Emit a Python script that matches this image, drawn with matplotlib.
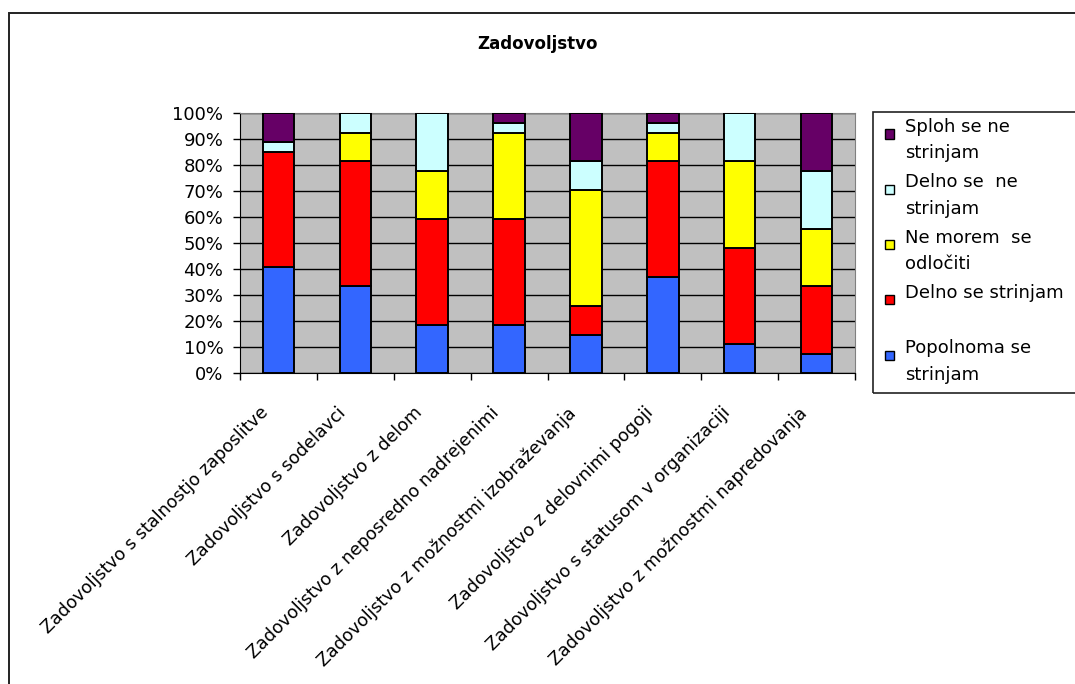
import matplotlib
matplotlib.use("Agg")
import matplotlib.pyplot as plt
from matplotlib.patches import Rectangle
from matplotlib.transforms import ScaledTranslation

# survey answers, share of respondents in %
categories = [
    "Zadovoljstvo s stalnostjo zaposlitve",
    "Zadovoljstvo s sodelavci",
    "Zadovoljstvo z delom",
    "Zadovoljstvo z neposredno nadrejenimi",
    "Zadovoljstvo z možnostmi izobraževanja",
    "Zadovoljstvo z delovnimi pogoji",
    "Zadovoljstvo s statusom v organizaciji",
    "Zadovoljstvo z možnostmi napredovanja",
]
popolnoma = [40.7, 33.3, 18.5, 18.5, 14.8, 37.0, 11.1, 7.4]
delno_strinjam = [44.4, 48.1, 40.7, 40.7, 11.1, 44.4, 37.0, 25.9]
ne_morem = [0.0, 11.1, 18.5, 33.3, 44.4, 11.1, 33.3, 22.2]
delno_ne = [3.7, 7.5, 22.3, 3.7, 11.1, 3.7, 18.6, 22.2]
sploh_ne = [11.2, 0.0, 0.0, 3.8, 18.6, 3.8, 0.0, 22.3]

series_labels = ["Popolnoma se\nstrinjam", "Delno se strinjam\n", "Ne morem  se\nodločiti",
                 "Delno se  ne\nstrinjam", "Sploh se ne\nstrinjam"]
series_colors = ["#3366FF", "#FF0000", "#FFFF00", "#CCFFFF", "#660066"]

W, H = 1075, 684
plt.rcParams["font.family"] = "DejaVu Sans"
plt.rcParams["font.size"] = 13

fig = plt.figure(figsize=(W / 100, H / 100), dpi=100)


def fx(x):
    return x / W


def fy(y):
    return 1 - y / H


# outer chart frame (runs off the right and bottom edge)
fig.patches.append(Rectangle((fx(8.5), fy(700)), fx(1100), fy(12.7) - fy(700),
                             transform=fig.transFigure, fill=False,
                             edgecolor="#222222", linewidth=1.4))

fig.text(fx(538), fy(44), "Zadovoljstvo", ha="center", va="center",
         fontsize=12, fontweight="bold")

ax = fig.add_axes([fx(240), fy(373), (855 - 240) / W, (373 - 113) / H])
ax.set_facecolor("#C0C0C0")

x = list(range(len(categories)))
series = [popolnoma, delno_strinjam, ne_morem, delno_ne, sploh_ne]
bottom = [0.0] * len(categories)
for values, color in zip(series, series_colors):
    ax.bar(x, values, bottom=bottom, width=0.41, color=color,
           edgecolor="black", linewidth=1.4, zorder=3)
    bottom = [b + v for b, v in zip(bottom, values)]

ax.set_xlim(-0.5, len(categories) - 0.5)
ax.set_ylim(0, 100)
ax.set_yticks(range(0, 101, 10))
ax.set_yticklabels([f"{v}%" for v in range(0, 101, 10)])
ax.yaxis.grid(True, color="black", linewidth=1.0, zorder=1)
ax.set_axisbelow(True)

ax.set_xticks(x)
ax.set_xticklabels(categories, rotation=45, ha="right", fontsize=12.6)
ax.set_xticks([i - 0.5 for i in range(len(categories) + 1)], minor=True)
ax.tick_params(axis="x", which="major", length=0, pad=22)
ax.tick_params(axis="x", which="minor", length=5, width=1.0)
ax.tick_params(axis="y", length=5, width=1.0, pad=7)

# nudge the slanted category names a little to the left
shift = ScaledTranslation(-6 / 100, 0, fig.dpi_scale_trans)
for lbl in ax.get_xticklabels():
    lbl.set_transform(lbl.get_transform() + shift)

for side in ["top", "right"]:
    ax.spines[side].set_color("#808080")
for side in ["left", "bottom"]:
    ax.spines[side].set_color("black")

# legend box, drawn by hand so the squares sit on the first text line
fig.patches.append(Rectangle((fx(873), fy(393)), fx(1100) - fx(873), fy(112) - fy(393),
                             transform=fig.transFigure, fill=False,
                             edgecolor="#222222", linewidth=1.2))
for i, (label, color) in enumerate(zip(series_labels[::-1], series_colors[::-1])):
    y0 = 127 + 55.3 * i
    fig.patches.append(Rectangle((fx(885), fy(y0 + 11.5)), 9 / W, 9 / H,
                                 transform=fig.transFigure, facecolor=color,
                                 edgecolor="black", linewidth=1.0))
    for k, line in enumerate(label.split("\n")):
        fig.text(fx(905), fy(y0 + 26.5 * k), line, ha="left", va="center")

fig.savefig("out.png", dpi=100)
